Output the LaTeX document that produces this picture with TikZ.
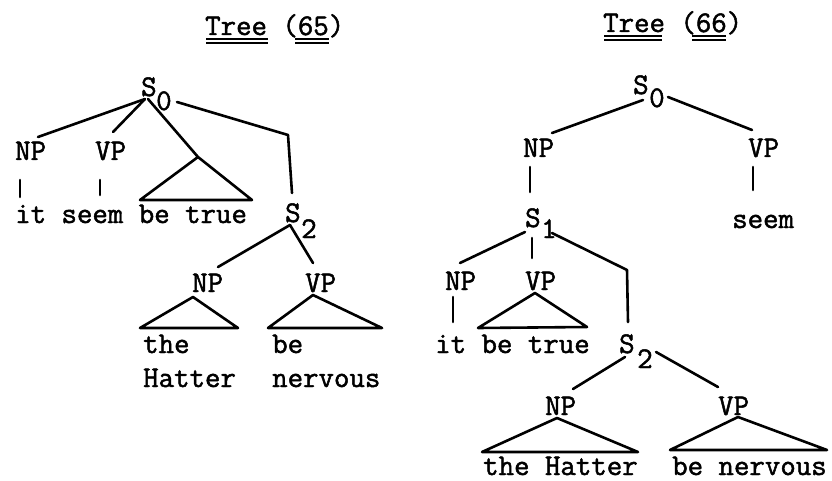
\documentclass[tikz,border=0pt]{standalone}
\usepackage{fontspec}
\usetikzlibrary{calc}
\newfontfamily\twfont[FakeBold=1.6]{Latin Modern Mono}
\tikzset{
  lbl/.style={inner sep=0pt, anchor=base west, font=\twfont\fontsize{30}{31}\selectfont},
  edge/.style={line width=2.6pt, line cap=round, line join=round},
  uline/.style={line width=1.6pt}
}
\begin{document}
\begin{tikzpicture}[x=1pt,y=-1pt]
\useasboundingbox (0,0) rectangle (832,481);
% ---------------- Tree (65) ----------------
\node[lbl] (tA) at (205,35) {Tree (65)};
\draw[uline] ($(tA.base west)+(1,4)$) -- ++(62,0);
\draw[uline] ($(tA.base west)+(1,8)$) -- ++(62,0);
\draw[uline] ($(tA.base west)+(90,4)$) -- ++(34,0);
\draw[uline] ($(tA.base west)+(90,8)$) -- ++(34,0);

\node[lbl] (aS0) at (141,96) {S};
\node[lbl] (aS0n) at (156,110) {0};
\node[lbl] (aNP) at (15,160) {NP};
\node[lbl] (aVP) at (95,160) {VP};
\node[lbl] (aW) at (15,223) {it seem be true};
\node[lbl] (aS2) at (285,222) {S};
\node[lbl] (aS2n) at (301,238) {2};
\node[lbl] (aNP2) at (192,292) {NP};
\node[lbl] (aVP2) at (305,292) {VP};
\node[lbl] (aThe) at (143,353) {the};
\node[lbl] (aHat) at (143,387) {Hatter};
\node[lbl] (aBe) at (272,353) {be};
\node[lbl] (aNerv) at (272,387) {nervous};

\coordinate (aS0b) at (145,99);
\coordinate (aS0r) at (177,102);
\coordinate (aNPt) at (38,137);
\coordinate (aVPt) at (113,132);
\coordinate (aTx) at (198,157);
\coordinate (aTl) at (140,200);
\coordinate (aTr) at (252,200);
\coordinate (aBend) at (288,135);
\coordinate (aS2t) at (292,193);
\coordinate (aNPb1) at (20,180);
\coordinate (aNPb2) at (20,197);
\coordinate (aVPb1) at (100,180);
\coordinate (aVPb2) at (100,195);
\coordinate (aS2b) at (290,225);
\coordinate (aNP2t) at (218,267);
\coordinate (aVP2t) at (313,263);
\coordinate (aN2x) at (193,297);
\coordinate (aN2l) at (140,328);
\coordinate (aN2r) at (238,328);
\coordinate (aV2x) at (313,295);
\coordinate (aV2l) at (268,328);
\coordinate (aV2r) at (382,328);

\draw[edge] (aS0b) -- (aNPt);
\draw[edge] (aS0b) -- (aVPt);
\draw[edge] ([xshift=3pt]aS0b) -- (aTx) -- (aTr) -- (aTl) -- (aTx);
\draw[edge] (aS0r) -- (aBend) -- (aS2t);
\draw[edge] (aNPb1) -- (aNPb2);
\draw[edge] (aVPb1) -- (aVPb2);
\draw[edge] (aS2b) -- (aNP2t);
\draw[edge] (aS2b) -- (aVP2t);
\draw[edge] (aN2l) -- (aN2x) -- (aN2r) -- cycle;
\draw[edge] (aV2l) -- (aV2x) -- (aV2r) -- cycle;

% ---------------- Tree (66) ----------------
\node[lbl] (tB) at (603,32) {Tree (66)};
\draw[uline] ($(tB.base west)+(1,4)$) -- ++(58,0);
\draw[uline] ($(tB.base west)+(1,8)$) -- ++(58,0);
\draw[uline] ($(tB.base west)+(89,4)$) -- ++(34,0);
\draw[uline] ($(tB.base west)+(89,8)$) -- ++(34,0);

\node[lbl] (bS0) at (633,94) {S};
\node[lbl] (bS0n) at (649,107) {0};
\node[lbl] (bNP) at (523,157) {NP};
\node[lbl] (bVP) at (748,157) {VP};
\node[lbl] (bSeem) at (732,228) {seem};
\node[lbl] (bS1) at (525,227) {S};
\node[lbl] (bS1n) at (541,238) {1};
\node[lbl] (bNP1) at (445,290) {NP};
\node[lbl] (bVP1) at (525,290) {VP};
\node[lbl] (bW) at (435,353) {it be true};
\node[lbl] (bS2) at (619,353) {S};
\node[lbl] (bS2n) at (637,368) {2};
\node[lbl] (bNP2) at (545,415) {NP};
\node[lbl] (bVP2) at (718,415) {VP};
\node[lbl] (bHat) at (483,475) {the Hatter};
\node[lbl] (bNerv) at (672,475) {be nervous};

\coordinate (bS0l) at (643,100);
\coordinate (bS0r) at (668,97);
\coordinate (bNPt) at (552,133);
\coordinate (bVPt) at (752,130);
\coordinate (bNPb1) at (530,167);
\coordinate (bNPb2) at (530,192);
\coordinate (bVPb1) at (753,167);
\coordinate (bVPb2) at (753,190);
\coordinate (bS1l) at (525,232);
\coordinate (bNP1t) at (460,263);
\coordinate (bS1m) at (532,238);
\coordinate (bVP1t) at (532,258);
\coordinate (bS1r) at (552,233);
\coordinate (bBend) at (627,270);
\coordinate (bS2t) at (628,322);
\coordinate (bN1b1) at (453,297);
\coordinate (bN1b2) at (453,322);
\coordinate (bV1x) at (535,293);
\coordinate (bV1l) at (478,328);
\coordinate (bV1r) at (587,327);
\coordinate (bS2l) at (625,357);
\coordinate (bNP2t) at (573,389);
\coordinate (bS2r) at (656,352);
\coordinate (bVP2t) at (718,387);
\coordinate (bN2x) at (557,418);
\coordinate (bN2l) at (482,452);
\coordinate (bN2r) at (638,452);
\coordinate (bV2x) at (738,417);
\coordinate (bV2l) at (670,450);
\coordinate (bV2r) at (827,450);

\draw[edge] (bS0l) -- (bNPt);
\draw[edge] (bS0r) -- (bVPt);
\draw[edge] (bNPb1) -- (bNPb2);
\draw[edge] (bVPb1) -- (bVPb2);
\draw[edge] (bS1l) -- (bNP1t);
\draw[edge] (bS1m) -- (bVP1t);
\draw[edge] (bS1r) -- (bBend) -- (bS2t);
\draw[edge] (bN1b1) -- (bN1b2);
\draw[edge] (bV1l) -- (bV1x) -- (bV1r) -- cycle;
\draw[edge] (bS2l) -- (bNP2t);
\draw[edge] (bS2r) -- (bVP2t);
\draw[edge] (bN2l) -- (bN2x) -- (bN2r) -- cycle;
\draw[edge] (bV2l) -- (bV2x) -- (bV2r) -- cycle;
\end{tikzpicture}
\end{document}
